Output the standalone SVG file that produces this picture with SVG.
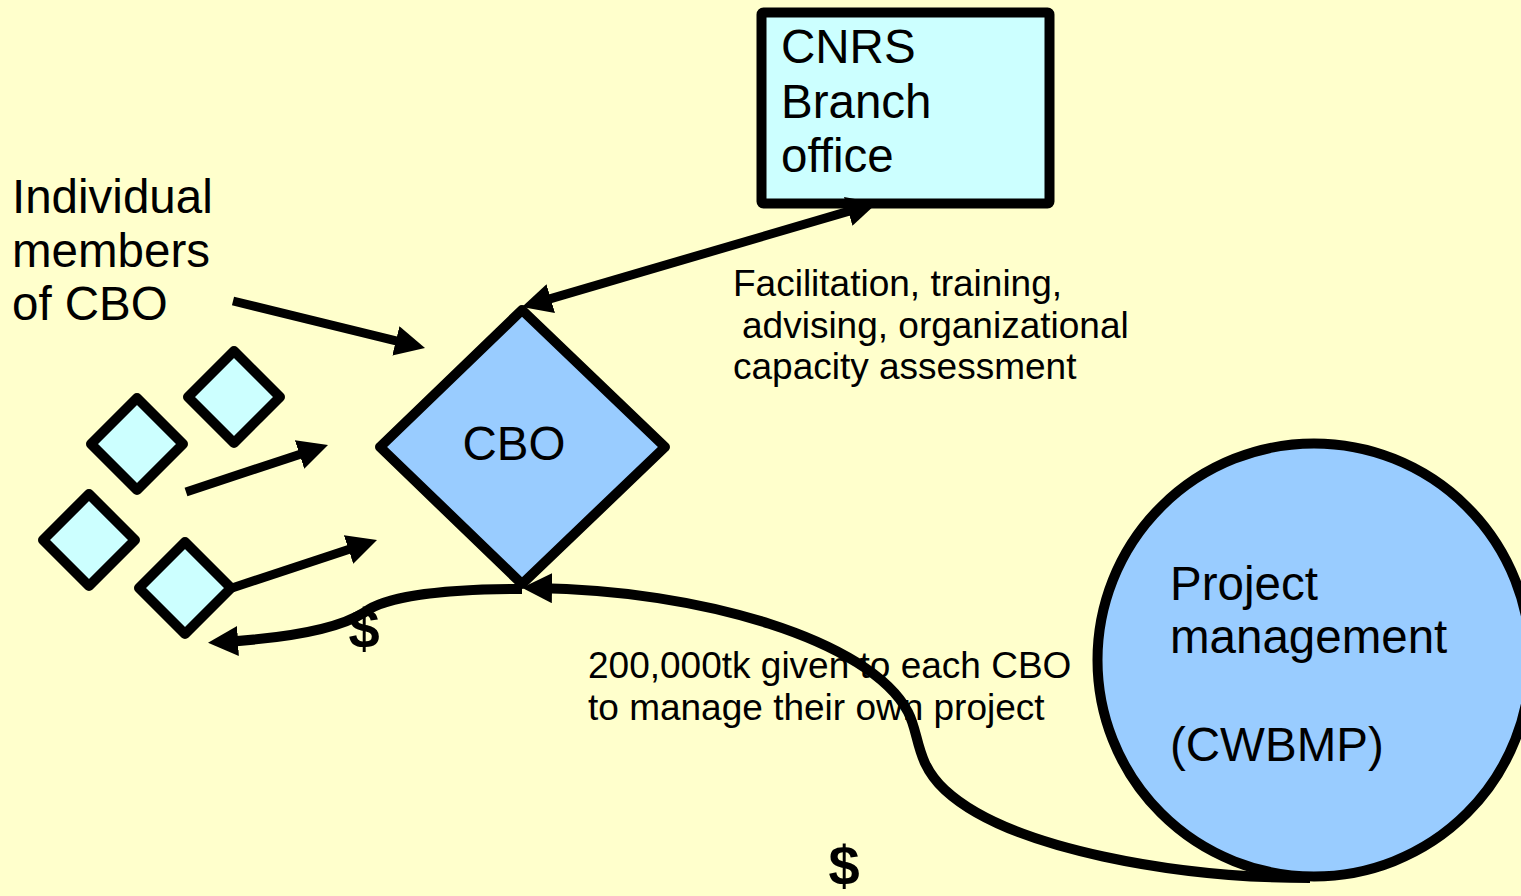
<svg xmlns="http://www.w3.org/2000/svg" width="1521" height="896" viewBox="0 0 1521 896">
  <style>
    .big { font-family: "Liberation Sans", Arial, sans-serif; font-size: 47.5px; fill: #000; }
    .small { font-family: "Liberation Sans", Arial, sans-serif; font-size: 37px; fill: #000; }
    .dollar { font-family: "Liberation Sans", Arial, sans-serif; font-size: 56px; font-weight: bold; fill: #000; text-anchor: middle; }
    .shape { stroke: #000; stroke-width: 10; stroke-linejoin: round; }
    .conn { fill: none; stroke: #000; stroke-width: 9; }
    .curve { fill: none; stroke: #000; stroke-width: 10; }
  </style>
  <defs>
    <marker id="arrow" markerUnits="userSpaceOnUse" viewBox="0 0 30 30" markerWidth="30" markerHeight="30" refX="16" refY="15" orient="auto-start-reverse">
      <path d="M0,0 L30,15 L0,30 z" fill="#000"/>
    </marker>
  </defs>
  <rect x="0" y="0" width="1521" height="896" fill="#ffffcc"/>

  <g id="cnrs">
    <rect class="shape" x="761.5" y="12.5" width="288" height="191" rx="2" fill="#ccffff" stroke-width="11"/>
    <text class="big" x="781" y="63">CNRS</text>
    <text class="big" x="781" y="118">Branch</text>
    <text class="big" x="781" y="172">office</text>
  </g>

  <g id="cbo">
    <polygon class="shape" points="522,310 665,447 522,584 380,447" fill="#99ccff"/>
    <text class="big" x="514" y="460" text-anchor="middle">CBO</text>
  </g>

  <g id="members-label">
    <text class="big" x="12" y="213">Individual</text>
    <text class="big" x="12" y="267">members</text>
    <text class="big" x="12" y="320">of CBO</text>
  </g>

  <g id="member1"><polygon class="shape" points="234,351 280,397 234,443 188,397" fill="#ccffff"/></g>
  <g id="member2"><polygon class="shape" points="137,398 183,444 137,490 91,444" fill="#ccffff"/></g>
  <g id="member3"><polygon class="shape" points="89,494 135,540 89,586 43,540" fill="#ccffff"/></g>
  <g id="member4"><polygon class="shape" points="185,542 231,588 185,634 139,588" fill="#ccffff"/></g>

  <g id="project">
    <circle class="shape" cx="1314" cy="660" r="216.5" fill="#99ccff" stroke-width="11"/>
    <text class="big" x="1170" y="600">Project</text>
    <text class="big" x="1170" y="653">management</text>
    <text class="big" x="1170" y="761">(CWBMP)</text>
  </g>

  <g id="connectors">
    <line class="conn" x1="535.4" y1="303.1" x2="863.6" y2="206.9" marker-start="url(#arrow)" marker-end="url(#arrow)"/>
    <line class="conn" x1="233" y1="301" x2="411.4" y2="344.7" marker-end="url(#arrow)"/>
    <line class="conn" x1="186" y1="492" x2="314.7" y2="449.4" marker-end="url(#arrow)"/>
    <line class="conn" x1="232" y1="588" x2="363.7" y2="544.4" marker-end="url(#arrow)"/>
    <path class="curve" d="M 1310 878 C 1180 878, 1010 850, 945 790 C 915 762, 920 735, 908 712 C 870 640, 700 590, 536 588" marker-end="url(#arrow)"/>
    <path class="curve" d="M 522 589 C 440 589, 385 597, 365 612 C 340 628, 290 638, 222 642" marker-end="url(#arrow)"/>
  </g>

  <g id="labels">
    <text class="small" x="733" y="296">Facilitation, training,</text>
    <text class="small" x="742" y="338">advising, organizational</text>
    <text class="small" x="733" y="379">capacity assessment</text>
    <text class="small" x="588" y="678">200,000tk given to each CBO</text>
    <text class="small" x="588" y="720">to manage their own project</text>
    <text class="dollar" x="364" y="648">$</text>
    <text class="dollar" x="844" y="885">$</text>
  </g>
</svg>
